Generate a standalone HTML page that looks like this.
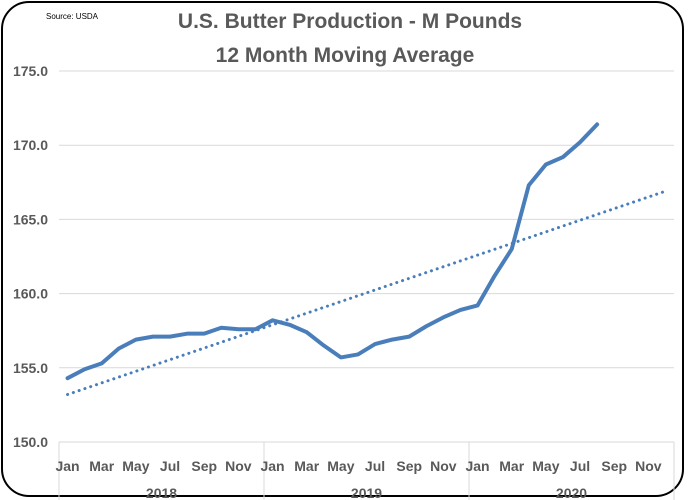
<!DOCTYPE html>
<html><head><meta charset="utf-8"><style>
body{margin:0;background:#fff;}
#wrap{position:relative;width:688px;height:500px;overflow:hidden;}
#frame{position:absolute;left:1px;top:1px;width:683px;height:496px;border:2px solid #000;border-radius:28px;box-sizing:border-box;}
svg{position:absolute;left:0;top:0;font-family:"Liberation Sans Narrow","Liberation Sans",sans-serif;}
</style></head><body>
<div id="wrap">
<div id="frame"></div>
<svg id="chart" width="688" height="500">
<text x="46" y="19" font-size="8" fill="#000">Source: USDA</text>
<text x="350" y="28" font-size="21" font-weight="bold" fill="#595959" text-anchor="middle">U.S. Butter Production - M Pounds</text>
<text x="345" y="62" font-size="21" font-weight="bold" fill="#595959" text-anchor="middle">12 Month Moving Average</text>
</svg>
</div>
<script>
const months=["Jan","Feb","Mar","Apr","May","Jun","Jul","Aug","Sep","Oct","Nov","Dec"];
const years=["2018","2019","2020"];
const yTicks=[150,155,160,165,170,175];
const production=[154.3,154.9,155.3,156.3,156.9,157.1,157.1,157.3,157.3,157.7,157.6,157.6,
158.2,157.9,157.4,156.5,155.7,155.9,156.6,156.9,157.1,157.8,158.4,158.9,
159.2,161.2,163.0,167.3,168.7,169.2,170.2,171.4];
const trendStart=[153.2];
const trendEnd=[166.9];
const svg=document.getElementById('chart');
const NS='http://www.w3.org/2000/svg';
const L=59,R=674,T=71,B=442,N=36;
const step=(R-L)/N;
const x=i=>L+step*(i+0.5);
const y=v=>B-(v-150)/25*(B-T);
function mk(tag,attrs,txt){const e=document.createElementNS(NS,tag);for(const k in attrs)e.setAttribute(k,attrs[k]);if(txt!=null)e.textContent=txt;svg.appendChild(e);return e;}
yTicks.forEach(t=>{
 const g=mk('line',{x1:L,x2:R,y1:y(t),y2:y(t),stroke:'#d9d9d9','stroke-width':1});
 
 
 const lb=mk('text',{x:48,y:y(t)+5,'font-size':14,'font-weight':'bold',fill:'#595959','text-anchor':'end'},t.toFixed(1));
 
 
});
for(let k=0;k<=3;k++){
 const xx=L+k*12*step;
 const d=mk('line',{x1:xx,x2:xx,y1:B,y2:500,stroke:'#d9d9d9','stroke-width':1});
 
 
}
for(let i=0;i<N;i+=2){
 const lb=mk('text',{x:x(i),y:471,'font-size':14,'font-weight':'bold',fill:'#595959','text-anchor':'middle'},months[i%12]);
 
 
}
years.forEach((yr,k)=>{
 const lb=mk('text',{x:L+(k*12+6)*step,y:498,'font-size':14,'font-weight':'bold',fill:'#595959','text-anchor':'middle'},yr);
 
 
});
const tr=mk('line',{x1:x(0),y1:y(trendStart[0]),x2:x(N-1),y2:y(trendEnd[0]),stroke:'#4a7ebb','stroke-width':3,'stroke-dasharray':'0.1 6','stroke-linecap':'round'});


const p=mk('polyline',{points:production.map((v,i)=>x(i)+','+y(v)).join(' '),fill:'none',stroke:'#4a7ebb','stroke-width':4,'stroke-linejoin':'round','stroke-linecap':'round'});


</script>
</body></html>
